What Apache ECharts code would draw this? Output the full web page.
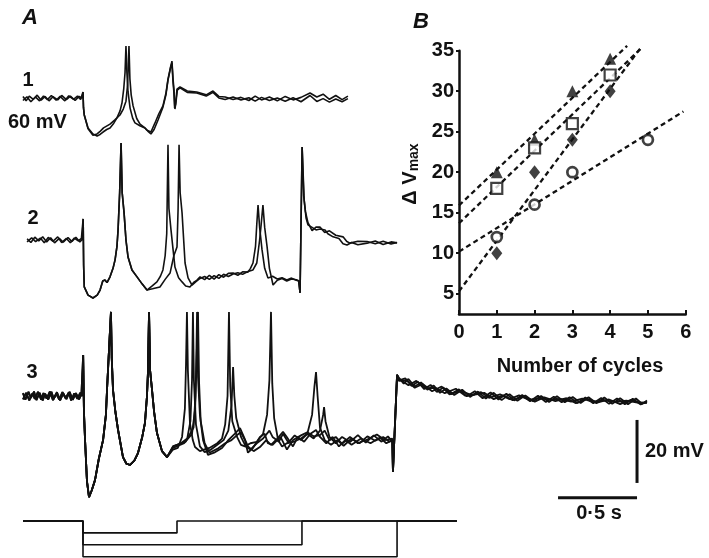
<!DOCTYPE html>
<html><head><meta charset="utf-8">
<script src="https://cdn.jsdelivr.net/npm/echarts@6/dist/echarts.min.js"></script>
<style>html,body{margin:0;padding:0;background:#fff}#c{width:709px;height:558px}</style>
</head><body><div id="c"></div>
<script>
// ---------------- Panel B data ----------------
const xTickValues = [0, 1, 2, 3, 4, 5, 6];
const yTickValues = [5, 10, 15, 20, 25, 30, 35];
const triCycles = [1, 2, 3, 4];   const triV = [20, 24, 30, 34];
const sqCycles  = [1, 2, 3, 4];   const sqV  = [18, 23, 26, 32];
const diaCycles = [1, 2, 3, 4];   const diaV = [10, 20, 24, 30];
const cirCycles = [1, 2, 3, 5];   const cirV = [12, 16, 20, 24];
const triFit = [[0, 15.9], [4.45, 35.6]];
const sqFit  = [[0, 13.7], [4.8, 35.2]];
const diaFit = [[0, 5.3],  [4.8, 35.3]];
const cirFit = [[0, 10.2], [5.94, 27.5]];

// ---------------- Panel A data (time ms from pulse onset, mV from rest) ----------------
const t1PreA = [[-380,0.5],[-360,-0.9],[-340,0.6],[-315,-0.4],[-290,0.9],[-265,-0.7],[-240,0.5],[-215,-0.9],[-190,0.4],[-160,-0.6],[-135,0.8],[-105,-0.5],[-80,0.6],[-50,-0.8],[-25,0.5],[-6,0]];
const t1PreB = [[-380,-0.8],[-355,0.4],[-330,-1.2],[-300,0.3],[-275,-0.9],[-250,0.6],[-225,-0.5],[-200,0.8],[-170,-0.7],[-145,0.5],[-115,-0.9],[-90,0.7],[-60,-0.4],[-35,0.6],[-15,-0.5],[-6,0]];
const t1A = [[0,1.9],[3,-3],[8,-5.4],[32,-9.5],[63,-11.4],[89,-12.1],[110,-11.5],[127,-10.8],[150,-10],[171,-9.5],[195,-8],[215,-6.3],[235,-4],[247,-1.5],[258,3],[266,8],[272,16.5],[278,8],[285,2],[298,-3.2],[315,-6.5],[329,-7.9],[360,-8.8],[392,-9.5],[410,-10.5],[430,-11.4],[450,-10],[475,-7],[506,-2.9],[525,1],[538,5.7],[552,9],[563,11.7],[570,6],[576,2.5],[580,-3.2],[586,-2],[595,2.8],[614,3.5],[660,2.2],[720,1.9],[780,1.0],[823,2.2],[860,0.5],[900,0.3],[950,-0.5],[1000,0.2],[1050,-0.8],[1090,0.6],[1130,-0.6],[1180,0.3],[1230,-0.9],[1280,0.5],[1330,-0.6],[1380,0.2],[1437,1.6],[1480,0.3],[1520,1.2],[1560,-0.4],[1600,0.8],[1640,-0.5],[1677,0.6]];
const t1B = [[0,1.9],[3,-3],[8,-5.4],[32,-9.8],[63,-11.8],[89,-11.4],[110,-10.5],[130,-9.5],[171,-8.3],[200,-7],[234,-5.4],[255,-3.5],[272,-1],[282,4],[291,16.5],[297,6],[305,1],[317,-2.5],[340,-6.5],[361,-8.3],[392,-9.5],[405,-10.2],[430,-10.8],[455,-8],[480,-5],[506,-2.5],[525,1.5],[538,6],[555,10],[563,11.2],[570,5],[576,1.5],[582,-3.5],[588,-1.5],[597,2.5],[614,3.2],[660,1.8],[720,1.6],[780,0.6],[823,1.8],[860,0.0],[900,-0.5],[950,0.3],[1000,-0.6],[1050,0.1],[1090,-1.0],[1130,0.2],[1180,-0.8],[1230,0.0],[1280,-1.0],[1330,0.1],[1380,-1.2],[1437,0.8],[1480,-1.1],[1520,-0.2],[1560,-1.3],[1600,-0.3],[1640,-1.2],[1677,-0.2]];

const t2PreA = [[-354,0.4],[-330,-0.8],[-305,0.9],[-280,-0.3],[-255,1.0],[-230,-0.6],[-205,0.7],[-180,-0.9],[-150,0.5],[-125,-0.7],[-95,0.8],[-70,-0.5],[-45,0.9],[-20,-0.6],[-5,0.2]];
const t2PreB = [[-354,-0.6],[-325,0.7],[-300,-0.5],[-270,0.6],[-245,-0.9],[-220,0.8],[-190,-0.4],[-160,1.0],[-135,-0.8],[-105,0.5],[-80,-0.9],[-55,0.6],[-30,-0.3],[-10,0.5],[-5,0]];
const t2Early = [[0,0],[1,6.7],[4,-8],[8,-14.9],[32,-17.5],[63,-18.4],[90,-17.5],[108,-15.9],[125,-13],[139,-12.7],[152,-13.5],[171,-11.7],[190,-9],[203,-6.3],[215,-2],[222,3.2],[232,15],[241,30.8],[248,15],[260,8.6],[272,0],[285,-5.4],[310,-9.5],[342,-11.7],[375,-14],[405,-15.9]];
const t2A = [[440,-14.5],[468,-13.3],[490,-11.5],[506,-9.5],[520,-5],[530,2],[538,30.2],[544,10],[557,3.2],[570,-3],[582,-8.6],[605,-12],[627,-13.3],[650,-14.6],[677,-14.9],[700,-13.5],[720,-12.8],[741,-11.7],[770,-12.6],[800,-11.2],[830,-12.4],[860,-11.0],[890,-11.8],[920,-10.6],[950,-10.5],[980,-11.2],[1010,-10.1],[1044,-10.2],[1060,-9],[1076,-7.3],[1092,-2],[1100,5],[1108,11.1],[1118,4],[1133,-3],[1150,-9],[1171,-12.1],[1200,-11.5],[1230,-12.4],[1260,-12.0],[1290,-12.7],[1320,-12.1],[1350,-12.8],[1365,-13],[1374,-16.8],[1387,29.5],[1400,12.7],[1412,7],[1424,4.8],[1450,4],[1475,3.2],[1500,3.5],[1532,3.2],[1550,2],[1583,1.0],[1620,0.5],[1646,-1.2],[1671,-1.6],[1700,-0.8],[1740,-1.5],[1798,-1.0],[1850,-0.3],[1900,-1.4],[1950,-0.6],[1988,-0.9]];
const t2B = [[440,-15.5],[487,-14.9],[520,-12.5],[551,-10.5],[575,-5],[595,-2.2],[602,10],[608,30.2],[615,15],[627,8.6],[646,-7.3],[665,-12],[690,-14.3],[715,-13.2],[741,-12.2],[770,-11.6],[800,-12.5],[830,-11.3],[860,-12.2],[890,-10.9],[920,-11.6],[950,-10.8],[980,-10.4],[1010,-10.9],[1044,-10.0],[1076,-9.5],[1100,-7.3],[1118,0],[1128,5],[1139,11.1],[1150,4],[1165,-2],[1180,-9],[1203,-14.3],[1230,-12.8],[1260,-12.2],[1290,-13.0],[1320,-12.4],[1350,-12.6],[1365,-12.9],[1374,-16.8],[1387,29.5],[1397,14],[1408,9],[1424,5.5],[1450,3],[1475,4.1],[1500,4.1],[1530,2.4],[1560,2.9],[1600,1.5],[1646,1.0],[1670,-0.5],[1690,-1.0],[1740,-0.4],[1798,-0.5],[1850,-1.2],[1900,-0.4],[1950,-1.3],[1988,-0.8]];

const t3Pre1 = [[-380,0.9],[-365,-1.2],[-345,1.3],[-330,-0.6],[-310,1.4],[-295,-1.3],[-275,1.0],[-255,-1.4],[-240,0.7],[-220,-1.1],[-200,1.3],[-185,-0.9],[-165,1.2],[-145,-1.4],[-125,0.8],[-105,-1.0],[-85,1.3],[-65,-1.2],[-45,0.9],[-25,-1.1],[-10,0.6],[-4,0]];
const t3Pre2 = [[-380,-1.1],[-360,1.0],[-340,-1.4],[-320,0.8],[-305,-0.9],[-285,1.3],[-265,-1.2],[-250,0.9],[-230,-0.8],[-210,1.4],[-190,-1.3],[-170,0.7],[-150,-1.1],[-130,1.2],[-110,-0.7],[-90,1.1],[-75,-1.4],[-55,0.8],[-35,-0.9],[-18,1.0],[-4,0]];
const t3Early = [[0,0],[1,13],[6,-5],[13,-14],[25,-27],[38,-32.1],[55,-30],[76,-26.7],[100,-20],[127,-14],[145,-6],[152,1.9],[165,15],[177,26.7],[182,12],[190,1.9],[205,-5],[222,-10.8],[253,-19.4],[275,-21.5],[298,-21.9],[325,-20.5],[348,-18.1],[375,-13],[392,-8.6],[405,0],[411,7.3],[418,26.7],[425,8],[437,1.9],[450,-5],[468,-11.7],[500,-17.5],[532,-19.4]];
const t3S1 = [[570,-17],[600,-16.5],[627,-13],[645,-4],[652,10],[658,26.7],[664,8],[677,-8.6],[695,-14],[709,-16.2],[740,-17.5],[760,-17.1],[800,-16.5],[850,-15],[880,-13.5],[900,-9],[915,0],[924,26.7],[932,3],[945,-8],[975,-13],[1000,-15.5],[1025,-16],[1060,-15],[1100,-14.6],[1140,-12],[1165,-6],[1180,5],[1190,26.7],[1198,4],[1210,-7],[1235,-14],[1260,-16],[1290,-15],[1330,-14.6],[1380,-13.5],[1420,-12],[1450,-6],[1465,3],[1475,7.6],[1485,0],[1500,-10],[1530,-14],[1570,-15.5],[1610,-14],[1650,-15.8],[1700,-13.5],[1750,-15],[1800,-12.8],[1850,-14.2],[1900,-13],[1940,-14.5],[1958,-14],[1962,-24.1],[1988,6.7]];
const t3S2 = [[570,-16],[620,-15],[660,-13.5],[680,-8],[690,5],[696,26.7],[702,5],[715,-9],[740,-16],[770,-17.8],[810,-17],[850,-15.5],[890,-14],[920,-11],[940,-3],[950,9.2],[958,0],[970,-7],[1000,-13],[1030,-16],[1060,-17],[1100,-15],[1140,-13.5],[1180,-11],[1200,-13],[1240,-14.5],[1266,-12],[1300,-14.8],[1340,-12.5],[1380,-14],[1420,-12],[1460,-13.5],[1500,-11],[1520,-6],[1526,-3.5],[1535,-8],[1560,-13],[1600,-15],[1640,-13],[1690,-14.6],[1740,-12.4],[1790,-14.8],[1840,-12.5],[1890,-14.5],[1930,-12.8],[1958,-14.5],[1962,-24.1],[1988,6.7]];
const t3S3 = [[570,-16.5],[640,-15],[690,-12],[710,-4],[716,8],[722,26.7],[728,6],[740,-6],[760,-14],[791,-18.7],[830,-18],[880,-16.5],[920,-14],[960,-12],[994,-10.2],[1010,-12],[1044,-16],[1080,-17.5],[1120,-16.2],[1160,-14],[1190,-15.5],[1230,-13.5],[1266,-11.4],[1290,-13],[1329,-16],[1360,-13],[1400,-14.5],[1440,-12],[1475,-10.8],[1500,-13],[1540,-15],[1580,-13],[1620,-16],[1660,-14],[1700,-15.5],[1760,-13.5],[1820,-15],[1880,-13.2],[1920,-15],[1958,-14],[1962,-24.1],[1988,6.7]];
const t3S4 = [[570,-16],[650,-14.5],[700,-10],[712,0],[728,26.7],[735,4],[745,-8],[770,-15],[800,-18],[850,-16.8],[900,-15],[940,-14],[975,-12.4],[1000,-11.5],[1025,-14],[1044,-18],[1076,-16.5],[1120,-13],[1150,-12],[1170,-15],[1200,-15.5],[1250,-13],[1291,-17],[1330,-14],[1380,-12.5],[1420,-11.5],[1460,-12.8],[1500,-12.4],[1530,-11],[1560,-14],[1600,-13],[1640,-15.2],[1690,-13],[1740,-15],[1800,-13.8],[1860,-12.2],[1910,-14],[1958,-13.5],[1962,-24.1],[1988,6.7]];
const t3Post1 = [[2000,5.8],[2030,3.9],[2060,5.4],[2100,3.0],[2140,4.3],[2180,2.0],[2220,3.3],[2260,1.0],[2300,2.4],[2350,0.3],[2400,2.0],[2450,-0.3],[2500,1.4],[2550,-0.8],[2600,1.0],[2650,-1.3],[2700,0.6],[2750,-1.5],[2800,0.2],[2850,-1.7],[2900,0.0],[2950,-1.9],[3000,-0.1],[3050,-2.0],[3100,-0.3],[3150,-2.2],[3200,-0.4],[3250,-2.3],[3300,-0.5],[3350,-2.5],[3400,-0.7],[3450,-2.6],[3500,-0.8],[3540,-2.5],[3570,-1.4]];
const t3Post2 = [[2000,5.0],[2040,5.6],[2080,3.2],[2120,4.5],[2160,2.2],[2200,3.5],[2240,1.3],[2280,2.7],[2330,0.6],[2380,2.1],[2430,-0.1],[2480,1.5],[2530,-0.7],[2580,1.1],[2630,-1.1],[2680,0.7],[2730,-1.4],[2780,0.3],[2830,-1.7],[2880,0.1],[2930,-1.9],[2980,-0.2],[3030,-2.0],[3080,-0.4],[3130,-2.2],[3180,-0.5],[3230,-2.3],[3280,-0.6],[3330,-2.5],[3380,-0.8],[3430,-2.6],[3480,-0.9],[3530,-2.7],[3570,-1.8]];
const t3Post3 = [[2000,5.5],[2060,3.4],[2110,4.8],[2170,2.4],[2230,2.6],[2290,0.9],[2360,2.3],[2420,0.1],[2480,0.4],[2540,1.0],[2600,-1.0],[2660,0.2],[2720,-1.3],[2790,-0.1],[2860,-1.8],[2920,-0.4],[2990,-1.6],[3060,-0.7],[3120,-2.3],[3190,-0.9],[3260,-2.0],[3330,-1.1],[3400,-2.6],[3470,-1.2],[3530,-2.3],[3570,-2.2]];
const t3Post4 = [[2000,4.8],[2050,5.0],[2100,2.6],[2150,3.8],[2210,1.5],[2270,3.0],[2320,0.5],[2390,1.6],[2460,0.3],[2520,1.2],[2570,-0.6],[2640,0.5],[2700,-1.0],[2760,0.2],[2820,-1.2],[2890,-0.7],[2960,-1.2],[3020,-0.9],[3090,-1.8],[3160,-0.8],[3230,-1.9],[3300,-1.4],[3370,-1.9],[3440,-1.5],[3510,-2.1],[3570,-2.0]];

// command pulses
const stimStart = -380, stimEnd = 2367;
const stimDurations = [595, 1386, 1988];
const stimLevels = [-1, -2, -3];
// scale bars
const scaleMv = 20, scaleMs = 500;

// ---------------- layout ----------------
const PX_PER_MS = 1 / 6.33, ONSET_X = 83, PX_PER_MV = 3.15;
const xMin = -ONSET_X / PX_PER_MS, xMax = (709 - ONSET_X) / PX_PER_MS;
const vMin = -40, vMax = 30;
const restY = [98, 240, 396];
const traceGrid = y => ({left: 0, width: 709, top: y - vMax * PX_PER_MV, height: (vMax - vMin) * PX_PER_MV});

const INK = '#111';
const FONT = 'Liberation Sans, Arial, sans-serif';

function trace(data, gi, w) {
  return {type: 'line', xAxisIndex: gi, yAxisIndex: gi, data: data, showSymbol: false, symbol: 'none',
    clip: false, silent: true, animation: false, lineStyle: {color: INK, width: w || 1.6}, z: 2};
}
const zip = (xs, ys) => xs.map((x, i) => [x, ys[i]]);

const series = [];
series.push(trace(t1PreA.concat(t1A), 0));
series.push(trace(t1PreB.concat(t1B), 0));
series.push(trace(t2PreA.concat(t2Early, t2A), 1));
series.push(trace(t2PreB.concat(t2Early, t2B), 1));
[[t3Pre1, t3S1, t3Post1], [t3Pre2, t3S2, t3Post2], [t3Pre1, t3S3, t3Post3], [t3Pre2, t3S4, t3Post4]].forEach(s => {
  series.push(trace(s[0].concat(t3Early, s[1], s[2]), 2, 1.8));
});
stimDurations.forEach((d, i) => {
  const l = stimLevels[i];
  series.push(trace([[stimStart, 0], [0, 0], [0, l], [d, l], [d, 0], [stimEnd, 0]], 3, 1.6));
});
const barT = 3507, barV = -7.6, hBarV = -32.3;
series.push(trace([[barT, barV], [barT, barV - scaleMv]], 2, 3));
series.push(trace([[barT - scaleMs, hBarV], [barT, hBarV]], 2, 3));

const fitStyle = {color: INK, width: 2.3, type: [5, 3.5]};
[triFit, sqFit, diaFit, cirFit].forEach(f => {
  series.push({type: 'line', xAxisIndex: 4, yAxisIndex: 4, data: f, showSymbol: false, symbol: 'none', clip: false,
    silent: true, animation: false, lineStyle: fitStyle, z: 3});
});
const sc = (data, symbol, size, filled, bw) => ({type: 'scatter', xAxisIndex: 4, yAxisIndex: 4, data: data, symbol: symbol,
  symbolSize: size, animation: false, silent: true, z: 5,
  itemStyle: {color: filled ? INK : '#fff', borderColor: INK, borderWidth: bw}});
series.push(sc(zip(triCycles, triV), 'triangle', 12, true, 0));
series.push(sc(zip(sqCycles, sqV), 'rect', 11, false, 2.2));
series.push(sc(zip(diaCycles, diaV), 'diamond', [11, 14], true, 0));
series.push(sc(zip(cirCycles, cirV), 'circle', 10, false, 2.7));

const hiddenX = i => ({type: 'value', gridIndex: i, min: xMin, max: xMax, show: false});
const hiddenY = (i, mn, mx) => ({type: 'value', gridIndex: i, min: mn, max: mx, show: false});
const T = (x, y, text, font, align) => ({type: 'text', x: x, y: y,
  style: {text: text, font: font, fill: INK, align: align || 'center', verticalAlign: 'middle'}});

const option = {
  backgroundColor: '#fff',
  animation: false,
  grid: [traceGrid(restY[0]), traceGrid(restY[1]), traceGrid(restY[2]),
    {left: 0, width: 709, top: 521, height: 35.7},
    {left: 459, top: 50.7, width: 226.7, height: 263.3}],
  xAxis: [hiddenX(0), hiddenX(1), hiddenX(2), hiddenX(3),
    {type: 'value', gridIndex: 4, min: 0, max: 6, interval: 1,
      axisLine: {show: true, lineStyle: {color: INK, width: 2.5}},
      axisTick: {show: true, inside: true, length: 4, lineStyle: {color: INK, width: 2}, customValues: xTickValues},
      axisLabel: {color: INK, fontSize: 20, fontWeight: 'bold', fontFamily: FONT, margin: 8, customValues: xTickValues},
      splitLine: {show: false}}],
  yAxis: [hiddenY(0, vMin, vMax), hiddenY(1, vMin, vMax), hiddenY(2, vMin, vMax), hiddenY(3, -3, 0),
    {type: 'value', gridIndex: 4, min: 2.5, max: 35,
      axisLine: {show: true, lineStyle: {color: INK, width: 2.5}},
      axisTick: {show: true, inside: false, length: 3, lineStyle: {color: INK, width: 2}, customValues: yTickValues},
      axisLabel: {color: INK, fontSize: 20, fontWeight: 'bold', fontFamily: FONT, margin: 5, customValues: yTickValues},
      splitLine: {show: false}}],
  series: series,
  graphic: [
    T(30, 18, 'A', 'italic bold 22px ' + FONT),
    T(421, 22, 'B', 'italic bold 22px ' + FONT),
    T(28, 80, '1', 'bold 20px ' + FONT),
    T(8, 122, '60 mV', 'bold 20px ' + FONT, 'left'),
    T(33, 218, '2', 'bold 20px ' + FONT),
    T(32, 372, '3', 'bold 20px ' + FONT),
    T(645, 451, '20 mV', 'bold 20px ' + FONT, 'left'),
    T(599, 513, '0·5 s', 'bold 20px ' + FONT),
    T(580, 366, 'Number of cycles', 'bold 20px ' + FONT),
    {type: 'text', x: 410, y: 174, rotation: Math.PI / 2,
      style: {text: '{a|Δ V}{b|max}', fill: INK, align: 'center', verticalAlign: 'middle',
        rich: {a: {fontSize: 20, fontWeight: 'bold', fontFamily: FONT, fill: INK},
               b: {fontSize: 14, fontWeight: 'bold', fontFamily: FONT, fill: INK, padding: [9, 0, 0, 0]}}}}
  ]
};
const chart = echarts.init(document.getElementById('c'), null, {renderer: 'canvas'});
chart.setOption(option);
</script></body></html>
